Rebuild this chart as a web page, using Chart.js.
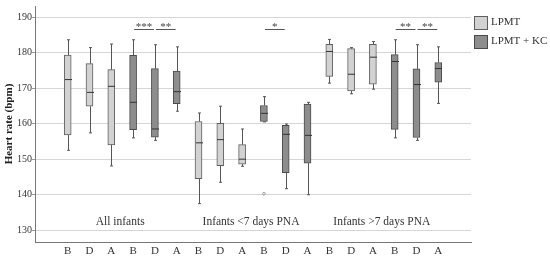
<!DOCTYPE html>
<html>
<head>
<meta charset="utf-8">
<script src="https://cdn.jsdelivr.net/npm/chart.js@4/dist/chart.umd.min.js"></script>
<style>
html,body{margin:0;padding:0;background:#fff;}
#wrap{width:550px;height:261px;position:relative;}
</style>
</head>
<body>
<div id="wrap"><canvas id="c" width="550" height="261"></canvas></div>
<script>
// ---- data ----
const timepoints = ['B', 'D', 'A'];
const groups = ['All infants', 'Infants <7 days PNA', 'Infants >7 days PNA'];
const seriesNames = ['LPMT', 'LPMT + KC'];
const yTicks = [130, 140, 150, 160, 170, 180, 190];

// order: group (All, <7, >7) x timepoint (B, D, A)
const lpmtMin    = [152.5, 157.4, 148.1, 137.5, 143.5, 148.0, 171.4, 168.4, 169.7];
const lpmtQ1     = [156.8, 164.9, 154.0, 144.5, 148.2, 148.6, 173.3, 169.2, 171.1];
const lpmtMedian = [172.4, 168.8, 170.5, 154.6, 155.5, 150.0, 180.3, 173.9, 178.7];
const lpmtQ3     = [179.3, 176.9, 175.2, 160.6, 160.1, 154.1, 182.3, 181.1, 182.3];
const lpmtMax    = [183.6, 181.4, 182.4, 163.0, 164.9, 158.5, 183.7, 181.4, 183.1];

const kcMin    = [156.0, 155.3, 163.5, 160.5, 141.7, 140.0, 156.0, 155.3, 165.7];
const kcQ1     = [158.3, 156.2, 165.6, 160.6, 146.2, 148.9, 158.4, 156.1, 171.7];
const kcMedian = [166.0, 158.5, 169.0, 162.9, 157.0, 156.7, 177.5, 171.0, 175.5];
const kcQ3     = [179.2, 175.5, 174.8, 165.1, 159.5, 165.5, 179.4, 175.4, 177.2];
const kcMax    = [183.6, 182.2, 181.6, 167.6, 159.9, 166.0, 183.6, 182.2, 181.6];

// outliers: [series, box position (0-8), value]
const outliers = [[1, 3, 140.3]];

// significance: [series, group, fromTimepoint, toTimepoint, label]
const sigSeries = [1, 1, 1, 1, 1];
const sigGroup  = [0, 0, 1, 2, 2];
const sigFrom   = [0, 1, 0, 0, 1];
const sigTo     = [1, 2, 1, 1, 2];
const sigLabel  = ['***', '**', '*', '**', '**'];

// ---- build ----
const SERIF = '"Liberation Serif", "DejaVu Serif", serif';
const fills = ['#d2d2d2', '#8d8d8d'];
const borders = ['#5f5f5f', '#4a4a4a'];
const stats = [
  {min: lpmtMin, q1: lpmtQ1, med: lpmtMedian, q3: lpmtQ3, max: lpmtMax},
  {min: kcMin, q1: kcQ1, med: kcMedian, q3: kcQ3, max: kcMax}
];
function catIndex(g, s, t) { return 1 + g * 6 + s * 3 + t; }

const labels = [''];
groups.forEach((g, gi) => seriesNames.forEach((s, si) => timepoints.forEach(t => labels.push(t))));
labels.push('');

const datasets = seriesNames.map((name, s) => {
  const data = new Array(labels.length).fill(null);
  for (let k = 0; k < 9; k++) {
    const g = Math.floor(k / 3), t = k % 3;
    data[catIndex(g, s, t)] = [stats[s].q1[k], stats[s].q3[k]];
  }
  return {
    label: name, data,
    backgroundColor: fills[s], borderColor: borders[s], borderWidth: 1,
    borderSkipped: false, barThickness: 7, grouped: false
  };
});

const boxPlugin = {
  id: 'boxExtras',
  afterDatasetsDraw(chart) {
    const ctx = chart.ctx, xs = chart.scales.x, ys = chart.scales.y;
    ctx.save();
    // whiskers & medians
    stats.forEach((st, s) => {
      for (let k = 0; k < 9; k++) {
        const g = Math.floor(k / 3), t = k % 3;
        const px = Math.round(xs.getPixelForValue(catIndex(g, s, t))) + 0.5;
        ctx.strokeStyle = '#555'; ctx.lineWidth = 1;
        ctx.beginPath();
        ctx.moveTo(px, ys.getPixelForValue(st.q3[k])); ctx.lineTo(px, ys.getPixelForValue(st.max[k]));
        ctx.moveTo(px, ys.getPixelForValue(st.q1[k])); ctx.lineTo(px, ys.getPixelForValue(st.min[k]));
        ctx.moveTo(px - 1.5, ys.getPixelForValue(st.max[k])); ctx.lineTo(px + 1.5, ys.getPixelForValue(st.max[k]));
        ctx.moveTo(px - 1.5, ys.getPixelForValue(st.min[k])); ctx.lineTo(px + 1.5, ys.getPixelForValue(st.min[k]));
        ctx.stroke();
        ctx.strokeStyle = '#333';
        ctx.beginPath();
        const my = ys.getPixelForValue(st.med[k]);
        ctx.moveTo(px - 3.5, my); ctx.lineTo(px + 3.5, my);
        ctx.stroke();
      }
    });
    // outliers
    outliers.forEach(o => {
      const [s, k, v] = o;
      const g = Math.floor(k / 3), t = k % 3;
      const px = xs.getPixelForValue(catIndex(g, s, t));
      ctx.strokeStyle = '#999'; ctx.lineWidth = 1;
      ctx.beginPath(); ctx.arc(px, ys.getPixelForValue(v), 1.3, 0, Math.PI * 2); ctx.stroke();
    });
    // significance brackets
    ctx.font = '11px ' + SERIF; ctx.fillStyle = '#444'; ctx.textAlign = 'center'; ctx.textBaseline = 'alphabetic';
    for (let i = 0; i < sigLabel.length; i++) {
      const x1 = xs.getPixelForValue(catIndex(sigGroup[i], sigSeries[i], sigFrom[i])) + 1;
      const x2 = xs.getPixelForValue(catIndex(sigGroup[i], sigSeries[i], sigTo[i])) - 1;
      ctx.strokeStyle = '#555'; ctx.lineWidth = 1;
      ctx.beginPath(); ctx.moveTo(x1, 29.5); ctx.lineTo(x2, 29.5); ctx.stroke();
      ctx.fillText(sigLabel[i], (x1 + x2) / 2, 30);
    }
    // group labels
    ctx.font = '11.5px ' + SERIF; ctx.fillStyle = '#333'; ctx.textBaseline = 'middle';
    groups.forEach((g, gi) => {
      const a = xs.getPixelForValue(catIndex(gi, 0, 0)), b = xs.getPixelForValue(catIndex(gi, 1, 2));
      ctx.fillText(g, (a + b) / 2 - 2, 222);
    });
    // legend
    ctx.textAlign = 'left'; ctx.font = '11px ' + SERIF;
    seriesNames.forEach((n, s) => {
      const top = 16 + s * 19;
      ctx.fillStyle = fills[s]; ctx.fillRect(474.5, top + 0.5, 13, 13);
      ctx.strokeStyle = borders[s]; ctx.strokeRect(474.5, top + 0.5, 13, 13);
      ctx.fillStyle = '#333'; ctx.fillText(n, 491, top + 6.5);
    });
    ctx.restore();
  }
};

new Chart(document.getElementById('c'), {
  type: 'bar',
  data: { labels, datasets },
  plugins: [boxPlugin],
  options: {
    responsive: false, animation: false, devicePixelRatio: 1,
    layout: { padding: { top: 5, right: 79, left: 0, bottom: 0 } },
    plugins: { legend: { display: false }, tooltip: { enabled: false } },
    scales: {
      x: {
        grid: { display: false, drawTicks: false },
        border: { display: true, color: '#777' },
        ticks: { font: { family: SERIF, size: 11 }, color: '#333', padding: 3, autoSkip: false, maxRotation: 0 },
        afterFit(scale) { scale.height = 19; }
      },
      y: {
        min: 126.7, max: 193.1,
        afterBuildTicks(scale) { scale.ticks = yTicks.map(v => ({ value: v })); },
        grid: { color: '#d6d6d6', tickLength: 3, tickColor: '#999' },
        border: { display: true, color: '#777' },
        ticks: { font: { family: SERIF, size: 10 }, color: '#333', padding: 0 },
        title: { display: true, text: 'Heart rate (bpm)', font: { family: SERIF, size: 11, weight: 'bold' }, color: '#222', padding: { top: 3, bottom: 0 } },
        afterFit(scale) { scale.width = 35; }
      }
    }
  }
});
</script>
</body>
</html>
